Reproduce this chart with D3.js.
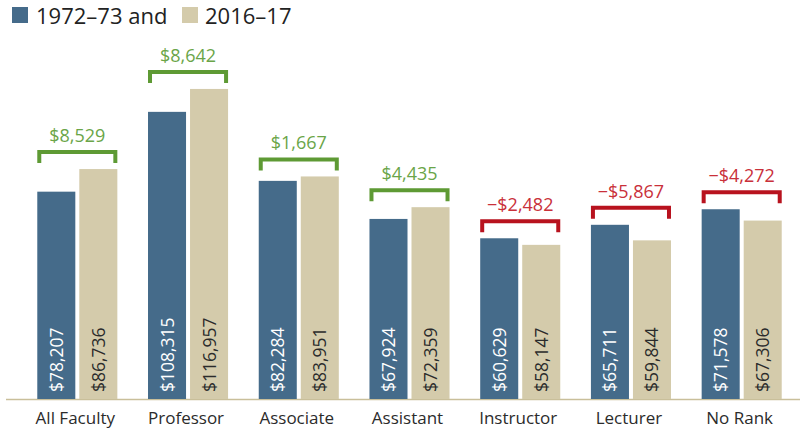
<!DOCTYPE html>
<html>
<head>
<meta charset="utf-8">
<script src="https://cdn.jsdelivr.net/npm/d3@7"></script>
<style>
  body { margin: 0; background: #fff; }
  svg { display: block; font-family: "Open Sans", "Noto Sans", sans-serif; }
</style>
</head>
<body>
<div id="chart"></div>
<script>
var categories = ["All Faculty", "Professor", "Associate", "Assistant", "Instructor", "Lecturer", "No Rank"]
var series = ["1972–73", "2016–17"]
var salary1972 = [78207, 108315, 82284, 67924, 60629, 65711, 71578]
var salary2016 = [86736, 116957, 83951, 72359, 58147, 59844, 67306]
var diffLabels = ["$8,529", "$8,642", "$1,667", "$4,435", "−$2,482", "−$5,867", "−$4,272"]

var W = 801, H = 431
var baseY = 399

var blue = "#456b8a", tan = "#d4cbab"
var green = "#5e9a34", greenText = "#6aa548"
var red = "#b8121e", redText = "#c9303a"

var svg = d3.select("#chart").append("svg")
  .attr("width", W)
  .attr("height", H)

var x = d3.scaleBand().domain(categories).range([22, 797]).paddingInner(0.277).paddingOuter(0.138)
var xs = d3.scaleBand().domain(series).range([0, x.bandwidth()]).paddingInner(0.095)
var y = d3.scaleLinear().domain([0, 150000]).range([baseY, baseY - 0.002651 * 150000])

var fmt = d3.format("$,")

// axis line
svg.append("line")
  .attr("x1", 6).attr("x2", 800)
  .attr("y1", baseY + 0.5).attr("y2", baseY + 0.5)
  .attr("stroke", "#c9bf9a")
  .attr("stroke-width", 1.5)

var groups = svg.selectAll("g.group")
  .data(categories)
  .enter().append("g")
    .attr("class", "group")
    .attr("transform", function(d){ return "translate(" + x(d) + ",0)" })

groups.each(function(cat, i){
  var g = d3.select(this)
  var vals = [salary1972[i], salary2016[i]]
  vals.forEach(function(v, j){
    g.append("rect")
      .attr("x", xs(series[j]))
      .attr("y", y(v))
      .attr("width", xs.bandwidth())
      .attr("height", y(0) - y(v))
      .attr("fill", j == 0 ? blue : tan)

    var cx = xs(series[j]) + xs.bandwidth() / 2
    g.append("text")
      .attr("transform", "translate(" + (cx + 6.5) + "," + (baseY - 7) + ") rotate(-90)")
      .attr("fill", j == 0 ? "#ffffff" : "#2b2b2b")
      .style("font-size", "17.5px")
      .text(fmt(v))
  })

  var top = y(Math.max(vals[0], vals[1])) - 17
  var up = vals[1] >= vals[0]
  var col = up ? green : red
  var x0 = 2, x1 = x.bandwidth() - 2
  g.append("path")
    .attr("d", "M" + x0 + "," + (top + 11) + "V" + top + "H" + x1 + "V" + (top + 11))
    .attr("fill", "none")
    .attr("stroke", col)
    .attr("stroke-width", 4)

  g.append("text")
    .attr("x", x.bandwidth() / 2)
    .attr("y", top - 10)
    .attr("text-anchor", "middle")
    .attr("fill", up ? greenText : redText)
    .style("font-size", "18px")
    .text(diffLabels[i])

  g.append("text")
    .attr("x", x.bandwidth() / 2 - 2)
    .attr("y", 424)
    .attr("text-anchor", "middle")
    .attr("fill", "#2b2b2b")
    .style("font-size", "17px")
    .text(cat)
})

// legend
var legend = svg.append("g")
legend.append("rect").attr("x", 12).attr("y", 7).attr("width", 16).attr("height", 16).attr("fill", blue)
legend.append("text").attr("x", 36).attr("y", 24).attr("fill", "#222").style("font-size", "22px").text("1972–73 and")
legend.append("rect").attr("x", 182).attr("y", 7).attr("width", 16).attr("height", 16).attr("fill", tan)
legend.append("text").attr("x", 205).attr("y", 24).attr("fill", "#222").style("font-size", "22px").text("2016–17")
</script>
</body>
</html>
